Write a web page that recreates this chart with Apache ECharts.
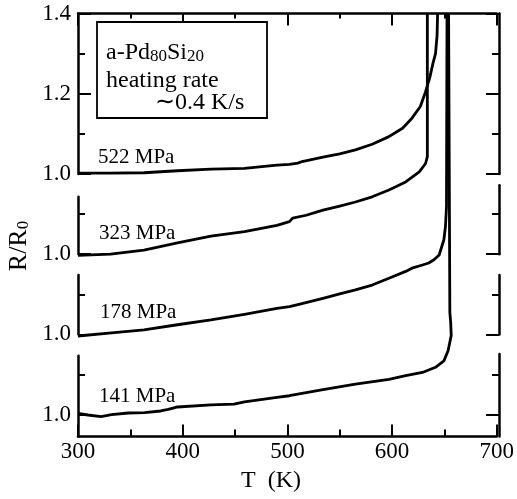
<!DOCTYPE html>
<html><head><meta charset="utf-8">
<script src="https://cdn.jsdelivr.net/npm/echarts@6/dist/echarts.min.js"></script>
<style>html,body{margin:0;padding:0;background:#fff}#c{width:517px;height:499px}</style>
</head><body><div id="c"></div>
<script>
// ---- data (T in K, R/R0) ----
const labels = ['522 MPa', '323 MPa', '178 MPa', '141 MPa'];
const offsets = [0, 0.2, 0.4, 0.6];

const T_522 = [300, 331, 363, 395, 427, 459, 490, 502, 510, 514, 534, 550, 565, 581, 597, 610, 619, 627, 632, 636, 639, 641.5, 643, 643.5];
const R_522 = [1.002, 1.002, 1.003, 1.008, 1.012, 1.014, 1.022, 1.024, 1.027, 1.031, 1.042, 1.050, 1.060, 1.074, 1.093, 1.114, 1.139, 1.168, 1.205, 1.24, 1.275, 1.30, 1.345, 1.40];

const T_323 = [300, 331, 363, 395, 427, 459, 490, 502, 505, 518, 534, 550, 565, 581, 597, 613, 626, 632, 633.7, 633.7];
const R_323 = [0.997, 1.000, 1.010, 1.028, 1.045, 1.056, 1.072, 1.081, 1.090, 1.097, 1.110, 1.120, 1.130, 1.143, 1.160, 1.180, 1.205, 1.226, 1.243, 1.60];

const T_178 = [300, 332, 363, 395, 427, 459, 490, 502, 510, 534, 550, 565, 581, 597, 613, 619, 629, 635, 640, 645, 649.5, 651, 652, 652.5];
const R_178 = [0.996, 1.004, 1.011, 1.024, 1.036, 1.050, 1.065, 1.069, 1.074, 1.090, 1.101, 1.111, 1.123, 1.140, 1.157, 1.165, 1.173, 1.178, 1.186, 1.198, 1.236, 1.269, 1.319, 1.80];

const T_141 = [300, 309.5, 322, 332, 348, 363.5, 379, 386, 389, 395, 427, 449, 459, 490, 502, 510, 534, 565, 597, 613, 629, 641.5, 649.5, 653.5, 656.5, 656, 655.2, 654];
const R_141 = [1.003, 0.999, 0.995, 1.000, 1.004, 1.005, 1.009, 1.013, 1.015, 1.019, 1.024, 1.026, 1.032, 1.043, 1.047, 1.051, 1.062, 1.076, 1.088, 1.097, 1.105, 1.118, 1.134, 1.159, 1.197, 1.230, 1.255, 2.00];

const xTicks = [300, 400, 500, 600, 700];
const topPanelTickLabels = [1.0, 1.2, 1.4];
const lowerPanelTickLabels = [1.0];

const curvesT = [T_522, T_323, T_178, T_141];
const curvesR = [R_522, R_323, R_178, R_141];

// ---- layout ----
const W = 517, H = 499;
const GL = 78, GR = 18, GT = 13.5, GB = 62.5;
const YMIN = 0.3454, YMAX = 1.4;
const PPU = (H - GT - GB) / (YMAX - YMIN);
const FONT = "'Liberation Serif','Times New Roman',serif";

// broken spines: own-units extents per panel and side
const spines = [
  {side: 'left',  p: 0, lo: 1.0, hi: 1.4,  lab: topPanelTickLabels},
  {side: 'right', p: 0, lo: 1.0, hi: 1.4,  lab: null},
  {side: 'left',  p: 1, lo: 1.0, hi: 1.143, lab: lowerPanelTickLabels},
  {side: 'right', p: 1, lo: 1.0, hi: 1.172, lab: null},
  {side: 'left',  p: 2, lo: 1.0, hi: 1.148, lab: lowerPanelTickLabels},
  {side: 'right', p: 2, lo: 1.0, hi: 1.148, lab: null},
  {side: 'left',  p: 3, lo: YMIN + 0.6, hi: 1.147, lab: lowerPanelTickLabels},
  {side: 'right', p: 3, lo: YMIN + 0.6, hi: 1.151, lab: null}
];

const grid = [{left: GL, right: GR, top: GT, bottom: GB}];
const xAxis = [
  {gridIndex: 0, type: 'value', min: xTicks[0], max: xTicks[xTicks.length - 1], interval: 100, position: 'bottom',
   axisLine: {onZero: false, lineStyle: {color: '#000', width: 2.5}},
   axisTick: {inside: true, length: 12, lineStyle: {color: '#000', width: 2}},
   minorTick: {show: true, splitNumber: 2, length: 7, lineStyle: {color: '#000', width: 2}},
   axisLabel: {color: '#000', fontSize: 23, fontFamily: FONT, margin: 4},
   splitLine: {show: false}},
  {gridIndex: 0, type: 'value', min: xTicks[0], max: xTicks[xTicks.length - 1], interval: 100, position: 'top',
   axisLine: {onZero: false, lineStyle: {color: '#000', width: 2.5}},
   axisTick: {inside: true, length: 12, lineStyle: {color: '#000', width: 2}},
   minorTick: {show: true, splitNumber: 2, length: 5, lineStyle: {color: '#000', width: 2}},
   axisLabel: {show: false}, splitLine: {show: false}}
];
const yAxis = [{gridIndex: 0, type: 'value', min: YMIN, max: YMAX, show: false}];

spines.forEach((s) => {
  const off = offsets[s.p];
  const gi = grid.length;
  grid.push({left: GL, right: GR, top: GT + (YMAX - (s.hi - off)) * PPU, height: (s.hi - s.lo) * PPU});
  xAxis.push({gridIndex: gi, type: 'value', min: 300, max: 700, show: false});
  const majors = [1.0, 1.2, 1.4].filter(v => v >= s.lo - 1e-9 && v <= s.hi + 1e-9);
  const minors = [1.1, 1.3].filter(v => v >= s.lo && v <= s.hi);
  yAxis.push({gridIndex: gi, type: 'value', position: s.side, min: s.lo, max: s.hi,
    axisLine: {show: true, lineStyle: {color: '#000', width: 2.5}},
    axisTick: {show: true, inside: true, length: 13, customValues: majors, lineStyle: {color: '#000', width: 2}},
    axisLabel: {show: !!s.lab, customValues: s.lab || [], formatter: v => Number(v).toFixed(1),
      color: '#000', fontSize: 23, fontFamily: FONT, margin: 7},
    splitLine: {show: false}});
  yAxis.push({gridIndex: gi, type: 'value', position: s.side, min: s.lo, max: s.hi,
    axisLine: {show: false},
    axisTick: {show: minors.length > 0, inside: true, length: 7, customValues: minors, lineStyle: {color: '#000', width: 2}},
    axisLabel: {show: false}, splitLine: {show: false}});
});

const series = curvesT.map((T, i) => ({
  type: 'line', xAxisIndex: 0, yAxisIndex: 0, name: labels[i],
  data: T.map((t, j) => [t, curvesR[i][j] - offsets[i]]),
  showSymbol: false, symbol: 'none', clip: true, z: 5,
  lineStyle: {color: '#000', width: 2.8, join: 'round'}
}));

const labelPos = [[98, 157], [99, 233.5], [100, 312.5], [99, 396]];
const graphic = [
  {type: 'rect', shape: {x: 97, y: 22, width: 170, height: 96}, z: 100,
   style: {fill: '#fff', stroke: '#000', lineWidth: 1.8}},
  {type: 'text', x: 106, y: 51, z: 101, style: {
    text: '{a|a-Pd}{s|80}{a|Si}{s|20}', textVerticalAlign: 'middle',
    rich: {a: {fontSize: 24, fontFamily: FONT, fill: '#000', color: '#000', lineHeight: 28, verticalAlign: 'bottom'},
           s: {fontSize: 17, fontFamily: FONT, fill: '#000', color: '#000', lineHeight: 17, verticalAlign: 'bottom'}}}},
  {type: 'text', x: 106, y: 81, z: 101, style: {text: 'heating rate', font: '24px ' + FONT, fill: '#000', textVerticalAlign: 'middle'}},
  {type: 'text', x: 155, y: 103, z: 101, style: {text: '\u223C0.4 K/s', font: '24px ' + FONT, fill: '#000', textVerticalAlign: 'middle'}},
  {type: 'text', x: 271, y: 481, style: {text: 'T  (K)', font: '24px ' + FONT, fill: '#000', textAlign: 'center', textVerticalAlign: 'middle'}},
  {type: 'text', x: 17, y: 246, rotation: Math.PI / 2, style: {
    text: '{a|R/R}{s|0}', textAlign: 'center', textVerticalAlign: 'middle',
    rich: {a: {fontSize: 26, fontFamily: FONT, fill: '#000', color: '#000', lineHeight: 30, verticalAlign: 'bottom'},
           s: {fontSize: 17, fontFamily: FONT, fill: '#000', color: '#000', lineHeight: 17, verticalAlign: 'bottom'}}}}
].concat(labels.map((l, i) => ({type: 'text', x: labelPos[i][0], y: labelPos[i][1], z: 101,
  style: {text: l, font: '21px ' + FONT, fill: '#000', textVerticalAlign: 'middle'}})));

const chart = echarts.init(document.getElementById('c'), null, {renderer: 'canvas'});
chart.setOption({animation: false, backgroundColor: '#fff', grid, xAxis, yAxis, series, graphic});
</script></body></html>
